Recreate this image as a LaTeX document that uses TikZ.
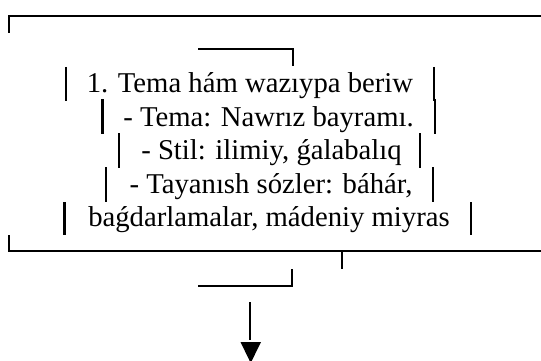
\documentclass[tikz,border=0pt]{standalone}
\usepackage{fontspec}
\setmainfont{Liberation Serif}
\begin{document}
\begin{tikzpicture}[x=1pt,y=-1pt,
  txt/.style={anchor=base, inner sep=0pt, font=\fontsize{28.7}{34}\selectfont},
  bar/.style={line width=2.3pt, line cap=butt},
  rule/.style={line width=2.3pt, line join=miter}]
\useasboundingbox (0,0) rectangle (541,361);
% outer frame pieces
\draw[rule] (9,33) -- (9,16) -- (541,16);
\draw[rule] (9,235) -- (9,251) -- (541,251);
\draw[rule] (342,251) -- (342,269);
% small brackets
\draw[rule] (198,49) -- (293,49) -- (293,66);
\draw[rule] (198,286) -- (292,286) -- (292,269);
% text lines
\node[txt] (l1) at (250,92.5) {1. Tema hám wazıypa beriw};
\node[txt] (l2) at (268.5,126) {- Tema: Nawrız bayramı.};
\node[txt] (l3) at (271.5,159.5) {- Stil: ilimiy, ǵalabalıq};
\node[txt] (l4) at (271,193) {- Tayanısh sózler: báhár,};
\node[txt] (l5) at (269,226.5) {baǵdarlamalar, mádeniy miyras};
% side bars
\draw[bar] (66,67) -- (66,100.5);
\draw[bar] (434,67) -- (434,101);
\draw[bar] (102.5,99) -- (102.5,133.5);
\draw[bar] (435,99) -- (435,134);
\draw[bar] (119,133) -- (119,167.5);
\draw[bar] (420,133) -- (420,168);
\draw[bar] (106,167) -- (106,202);
\draw[bar] (433,167) -- (433,202);
\draw[bar] (64.5,202) -- (64.5,235);
\draw[bar] (471,202) -- (471,235);
% arrow
\coordinate (as) at (250,302);
\coordinate (ae) at (250,340);
\draw[bar] (as) -- (ae);
\fill (240.5,342) -- (261,342) -- (250.7,363) -- cycle;
\end{tikzpicture}
\end{document}
